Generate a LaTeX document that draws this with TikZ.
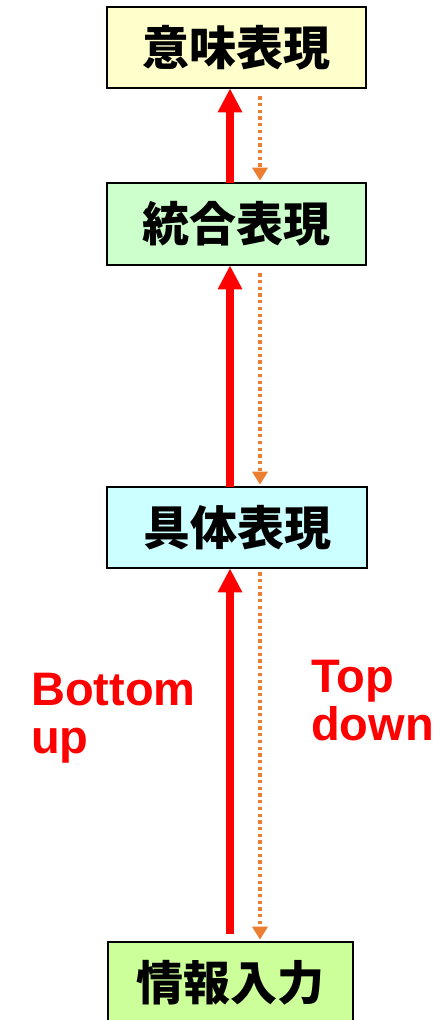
\documentclass[tikz,border=0pt]{standalone}
\usepackage{fontspec}
\setmainfont{Liberation Sans}
\newfontfamily\cjk{Noto Sans CJK JP}
\usetikzlibrary{arrows.meta}
\definecolor{boxyellow}{HTML}{FFFFCC}
\definecolor{boxgreen}{HTML}{CCFFCC}
\definecolor{boxcyan}{HTML}{CCFFFF}
\definecolor{boxlime}{HTML}{CCFF99}
\definecolor{tdorange}{HTML}{ED7D31}
\definecolor{bured}{HTML}{FF0000}
\tikzset{
  stagebox/.style={draw=black, line width=2.7pt, inner sep=0pt,
    font=\cjk\bfseries\fontsize{47}{50}\selectfont, text=black},
  buarrow/.style={draw=bured, line width=8pt,
    -{Triangle[width=23pt,length=24pt]}},
  tdarrow/.style={draw=tdorange, line width=3.4pt, dash pattern=on 3.3pt off 3.4pt,
    -{Triangle[width=15pt,length=13pt]}},
  lbl/.style={text=bured, font=\bfseries\fontsize{47}{48}\selectfont, inner sep=0pt}
}
\begin{document}
\begin{tikzpicture}[x=1pt,y=-1pt]
\clip (0,0) rectangle (444,1020);
\fill[white] (0,0) rectangle (444,1020);
\node[stagebox, fill=boxyellow, minimum width=259pt, minimum height=81pt] (b1) at (236.5,47.5) {意味表現};
\node[stagebox, fill=boxgreen, minimum width=259pt, minimum height=82pt] (b2) at (236.5,224) {統合表現};
\node[stagebox, fill=boxcyan, minimum width=260pt, minimum height=81pt] (b3) at (237,527.5) {具体表現};
\node[stagebox, fill=boxlime, minimum width=245pt, minimum height=82pt] (b4) at (230.5,983) {情報入力};
\coordinate (rx) at (230,0);
\coordinate (ox) at (260,0);
% bottom-up arrows
\draw[buarrow] ([yshift=-1pt]rx |- b2.north) -- ([yshift=1pt]rx |- b1.south);
\draw[buarrow] ([yshift=-1pt]rx |- b3.north) -- ([yshift=1pt]rx |- b2.south);
\draw[buarrow] ([yshift=7pt]rx |- b4.north) -- ([yshift=1pt]rx |- b3.south);
% top-down arrows
\draw[tdarrow] ([yshift=-7pt]ox |- b1.south) -- ([yshift=1pt]ox |- b2.north);
\draw[tdarrow] ([yshift=-7pt]ox |- b2.south) -- ([yshift=1pt]ox |- b3.north);
\draw[tdarrow] ([yshift=-3pt]ox |- b3.south) -- ([yshift=1pt]ox |- b4.north);
% labels
\node[lbl, anchor=base west] (bu1) at (31,705) {Bottom};
\node[lbl, anchor=base west] (bu2) at (31,753) {up};
\node[lbl, anchor=base west] (td1) at (311,692) {Top};
\node[lbl, anchor=base west] (td2) at (311,740) {down};
\end{tikzpicture}
\end{document}
